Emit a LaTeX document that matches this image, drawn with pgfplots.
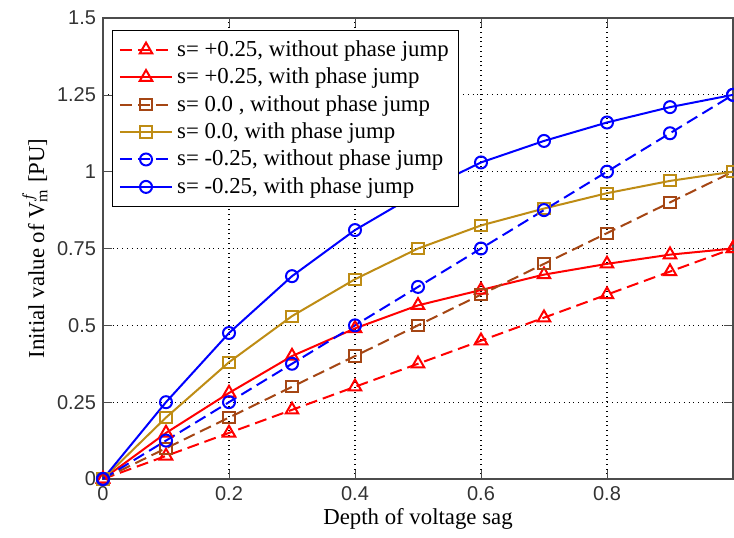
\documentclass[border=0pt]{standalone}
\usepackage{fontspec}
\setmainfont{Liberation Serif}
\setsansfont{Liberation Sans}
\usepackage{pgfplots}
\pgfplotsset{compat=1.18}
\definecolor{cbrown}{RGB}{165,70,20}
\definecolor{cgold}{RGB}{190,140,20}
\begin{document}
\begin{tikzpicture}
\begin{axis}[
  scale only axis, width=315pt, height=230.5pt,
  xmin=0, xmax=1, ymin=0, ymax=1.5,
  xtick={0,0.2,0.4,0.6,0.8}, ytick={0,0.25,0.5,0.75,1,1.25,1.5},
  yticklabels={0,0.25,0.5,0.75,1,1.25,1.5},
  xticklabels={0,0.2,0.4,0.6,0.8},
  tick align=inside,
  grid=major, major grid style={dotted, black, line width=0.6pt},
  axis line style={black!70, line width=0.6pt},
  tick style={black!70},
  ticklabel style={font=\sffamily\color{black!80}},
  /pgf/number format/assume math mode=true,
  xlabel={Depth of voltage sag},
  ylabel={Initial value of V$_{\mathrm{m}}^{f}$ [PU]},
  label style={font=\fontsize{11.4}{13}\selectfont},
  xlabel style={yshift=3pt},
  ylabel style={yshift=-2pt},
  legend style={at={(0.015,0.974)}, anchor=north west, draw=black, font=\fontsize{11.4}{13.6}\selectfont, row sep=0.3pt, inner xsep=3pt, inner ysep=3pt},
  legend cell align=left,
  legend image code/.code={\draw[mark repeat=2,mark phase=2,#1] plot coordinates {(0cm,0cm) (0.46cm,0cm) (0.92cm,0cm)};},
  every axis plot/.append style={line width=1pt},
  clip=false,
]
\addplot[red, dashed, dash pattern=on 6pt off 3pt, mark=triangle, mark size=3.6pt, mark options={solid}] coordinates {
(0,0) (0.1,0.075) (0.2,0.15) (0.3,0.225) (0.4,0.3) (0.5,0.375) (0.6,0.45) (0.7,0.525) (0.8,0.6) (0.9,0.675) (1.0,0.75)};
\addlegendentry{s= +0.25, without phase jump}
\addplot[red, solid, mark=triangle, mark size=3.6pt] coordinates {
(0,0) (0.1,0.15) (0.2,0.28) (0.3,0.40) (0.4,0.49) (0.5,0.565) (0.6,0.615) (0.7,0.665) (0.8,0.70) (0.9,0.73) (1.0,0.75)};
\addlegendentry{s= +0.25, with phase jump}
\addplot[cbrown, dashed, dash pattern=on 6pt off 3pt, mark=square, mark size=2.8pt, mark options={solid}] coordinates {
(0,0) (0.1,0.1) (0.2,0.2) (0.3,0.3) (0.4,0.4) (0.5,0.5) (0.6,0.6) (0.7,0.7) (0.8,0.8) (0.9,0.9) (1.0,1.0)};
\addlegendentry{s= 0.0 , without phase jump}
\addplot[cgold, solid, mark=square, mark size=2.8pt] coordinates {
(0,0) (0.1,0.2) (0.2,0.38) (0.3,0.53) (0.4,0.65) (0.5,0.75) (0.6,0.825) (0.7,0.88) (0.8,0.93) (0.9,0.97) (1.0,1.0)};
\addlegendentry{s= 0.0, with phase jump}
\addplot[blue, dashed, dash pattern=on 6pt off 3pt, mark=o, mark size=3pt, mark options={solid}] coordinates {
(0,0) (0.1,0.125) (0.2,0.25) (0.3,0.375) (0.4,0.5) (0.5,0.625) (0.6,0.75) (0.7,0.875) (0.8,1.0) (0.9,1.125) (1.0,1.25)};
\addlegendentry{s= -0.25, without phase jump}
\addplot[blue, solid, mark=o, mark size=3pt] coordinates {
(0,0) (0.1,0.25) (0.2,0.475) (0.3,0.66) (0.4,0.81) (0.5,0.93) (0.6,1.03) (0.7,1.10) (0.8,1.16) (0.9,1.21) (1.0,1.25)};
\addlegendentry{s= -0.25, with phase jump}
\end{axis}
\pgfresetboundingbox
\path[use as bounding box] ([xshift=-51.5pt,yshift=-29pt]current axis.south west) rectangle ([xshift=0.5pt,yshift=9pt]current axis.north east);
\end{tikzpicture}
\end{document}
